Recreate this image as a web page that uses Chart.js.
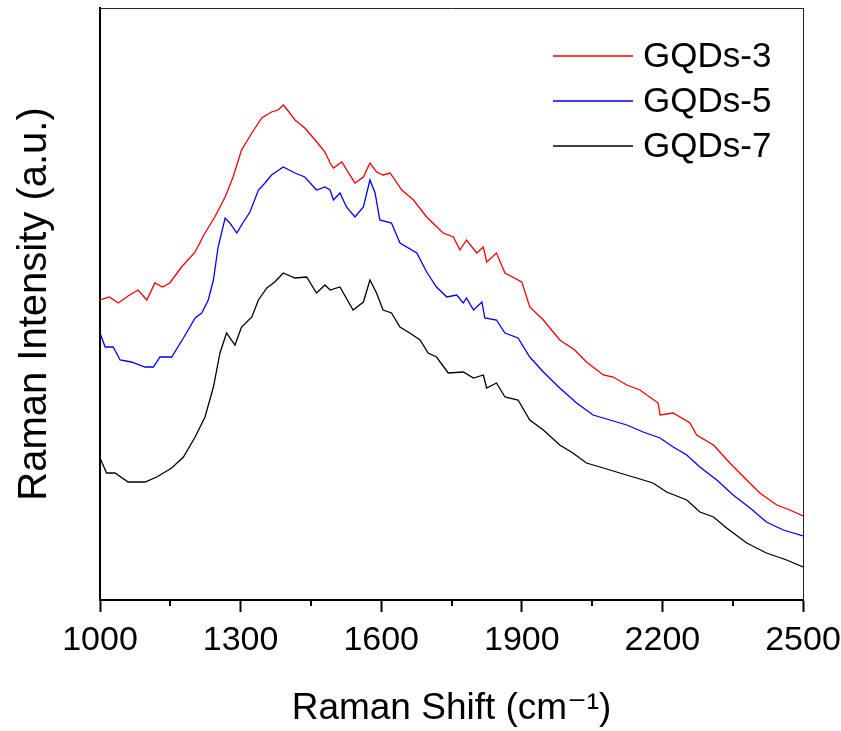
<!DOCTYPE html>
<html><head><meta charset="utf-8">
<script src="https://cdn.jsdelivr.net/npm/chart.js@4/dist/chart.umd.min.js"></script>
<style>html,body{margin:0;padding:0;background:#fff;}#wrap{width:841px;height:731px;}</style>
</head><body><div id="wrap"><canvas id="c" width="841" height="731"></canvas></div>
<script>
// Raman shift (cm-1) sample positions and intensities (a.u.)
const shift3 = [1000,1020,1039,1060,1081,1100,1117,1133,1149,1174,1203,1224,1245,1267,1284,1302,1324,1345,1366,1380,1391,1400,1416,1437,1459,1480,1491,1498,1516,1544,1562,1576,1590,1604,1619,1644,1669,1697,1732,1754,1768,1782,1804,1818,1825,1846,1864,1900,1917,1946,1981,2013,2038,2074,2095,2124,2152,2191,2195,2223,2259,2273,2309,2344,2380,2408,2444,2472,2500];
const gqds3 = [300,303,297,304,310,300,317,313,317,333,348,367,383,403,423,450,467,482,488,490,495,490,480,472,460,448,437,432,438,417,423,437,428,425,427,410,400,383,367,363,350,360,347,353,338,347,327,318,293,280,260,250,238,225,223,215,210,197,185,187,177,165,155,137,120,107,95,90,84];

const shift5 = [1000,1011,1028,1043,1067,1096,1114,1128,1153,1178,1203,1217,1231,1242,1252,1267,1277,1292,1302,1320,1338,1352,1366,1391,1416,1437,1462,1480,1491,1498,1512,1526,1544,1562,1576,1587,1597,1622,1640,1676,1697,1718,1740,1761,1775,1782,1797,1815,1821,1846,1864,1892,1917,1946,1981,2017,2052,2088,2124,2159,2195,2223,2252,2280,2316,2351,2387,2422,2458,2500];
const gqds5 = [267,253,253,240,238,233,233,243,243,262,282,287,300,320,353,382,377,367,375,388,410,417,425,433,427,423,410,413,410,400,407,393,383,393,420,407,380,377,357,347,328,313,303,305,297,302,290,298,282,280,267,262,243,228,212,197,185,180,175,168,162,153,145,133,120,105,92,78,70,64];

const shift7 = [1000,1014,1032,1060,1096,1121,1153,1178,1203,1224,1242,1256,1270,1288,1302,1324,1338,1356,1373,1391,1416,1441,1462,1480,1491,1512,1540,1562,1576,1590,1604,1622,1640,1661,1683,1700,1718,1743,1775,1797,1818,1825,1846,1864,1892,1917,1946,1981,2009,2038,2074,2109,2145,2180,2209,2252,2280,2309,2337,2380,2422,2465,2500];
const gqds7 = [142,127,127,118,118,123,132,143,163,183,213,247,267,255,273,283,300,312,318,327,322,323,307,315,310,313,290,298,320,307,290,287,273,267,260,247,243,227,228,222,225,212,217,203,200,180,170,155,147,137,132,127,122,117,108,100,88,83,72,57,47,40,33];

const seriesLabels = ['GQDs-3','GQDs-5','GQDs-7'];
const seriesColors = ['#f00000','#0000f0','#000000'];
const xMajorTicks = [1000,1300,1600,1900,2200,2500];
const xMinorTicks = [1150,1450,1750,2050,2350];

const FONT = "'Liberation Sans', Arial, 'DejaVu Sans', sans-serif";
const toPts = (xs, ys) => xs.map((x, i) => ({x: x, y: ys[i]}));

const framePlugin = {
  id: 'frame',
  afterDraw(chart) {
    const {ctx, chartArea: a} = chart;
    const xs = chart.scales.x;
    ctx.save();
    ctx.strokeStyle = '#222';
    ctx.lineWidth = 1;
    ctx.beginPath();
    ctx.moveTo(a.left, a.top + 0.5); ctx.lineTo(a.right, a.top + 0.5);
    ctx.moveTo(a.right + 0.5, a.top); ctx.lineTo(a.right + 0.5, a.bottom);
    ctx.stroke();
    // minor ticks
    ctx.strokeStyle = '#000';
    ctx.lineWidth = 2;
    ctx.beginPath();
    xMinorTicks.forEach(v => {
      const px = Math.round(xs.getPixelForValue(v));
      ctx.moveTo(px, a.bottom); ctx.lineTo(px, a.bottom + 6);
    });
    ctx.stroke();
    // legend
    ctx.font = '35px ' + FONT;
    ctx.textBaseline = 'middle';
    ctx.textAlign = 'left';
    const rows = [56, 101, 146];
    chart.data.datasets.forEach((ds, i) => {
      ctx.strokeStyle = ds.borderColor;
      ctx.lineWidth = 1.3;
      ctx.beginPath();
      ctx.moveTo(553, rows[i]); ctx.lineTo(633, rows[i]);
      ctx.stroke();
      ctx.fillStyle = '#000';
      ctx.fillText(ds.label, 643, rows[i] + 1);
    });
    ctx.restore();
  }
};

new Chart(document.getElementById('c'), {
  type: 'line',
  data: {
    datasets: [
      {label: seriesLabels[0], data: toPts(shift3, gqds3), borderColor: seriesColors[0]},
      {label: seriesLabels[1], data: toPts(shift5, gqds5), borderColor: seriesColors[1]},
      {label: seriesLabels[2], data: toPts(shift7, gqds7), borderColor: seriesColors[2]}
    ].map(d => Object.assign(d, {borderWidth: 1.3, pointRadius: 0, tension: 0, fill: false}))
  },
  options: {
    responsive: false,
    devicePixelRatio: 1,
    animation: false,
    layout: {padding: {left: 0, right: 38, top: 8, bottom: 0}},
    plugins: {legend: {display: false}, tooltip: {enabled: false}},
    scales: {
      x: {
        type: 'linear', min: 1000, max: 2500,
        afterBuildTicks: s => { s.ticks = xMajorTicks.map(v => ({value: v})); },
        afterFit: s => { s.height = 131; s.paddingRight = 0; s.paddingLeft = 0; },
        ticks: {color: '#000', font: {family: FONT, size: 34}, padding: 8, maxRotation: 0, autoSkip: false,
                callback: v => String(v)},
        grid: {display: true, drawOnChartArea: false, drawTicks: true, tickLength: 12, tickWidth: 2, tickColor: '#000'},
        border: {display: true, color: '#000', width: 2},
        title: {display: true, text: 'Raman Shift (cm⁻¹)', color: '#000', font: {family: FONT, size: 37}, padding: {top: 0, bottom: 0}}
      },
      y: {
        min: 0, max: 592,
        afterFit: s => { s.width = 100; },
        ticks: {display: false},
        grid: {display: false},
        border: {display: true, color: '#000', width: 2},
        title: {display: true, text: 'Raman Intensity (a.u.)', color: '#000', font: {family: FONT, size: 40}, padding: {top: 11, bottom: 0}}
      }
    }
  },
  plugins: [framePlugin]
});
</script>
</body></html>
